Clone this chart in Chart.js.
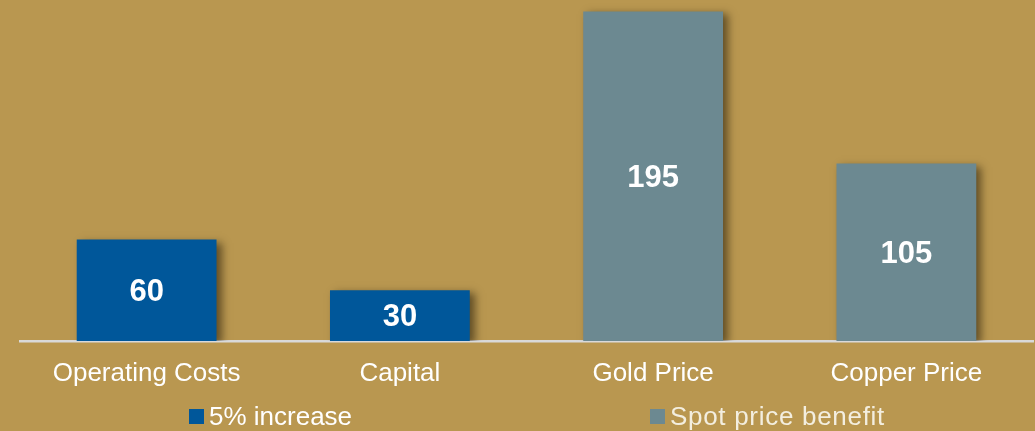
<!DOCTYPE html>
<html lang="en">
<head>
    <meta charset="UTF-8">
    <title>Sensitivity</title>
    <script src="https://cdn.jsdelivr.net/npm/chart.js"></script>
    <style>
        body {
            margin: 0;
            background-color: #B99750;
            font-family: "Liberation Sans", Arial, sans-serif;
        }

        .wrap {
            position: relative;
            width: 1035px;
            height: 431px;
            overflow: hidden;
        }

        .legend-item {
            position: absolute;
            top: 400px;
            color: #ffffff;
            font-size: 26px;
            line-height: 32px;
            white-space: nowrap;
        }

        .legend-item span {
            display: inline-block;
            width: 15px;
            height: 15px;
            margin-right: 5px;
            vertical-align: 1px;
        }
    </style>
</head>
<body>
    <div class="wrap">
        <canvas id="chart" width="1035" height="431"></canvas>
        <div class="legend-item" style="left:189px"><span style="background:#00579A"></span>5% increase</div>
        <div class="legend-item" style="left:650px;color:#F3EEDF;letter-spacing:0.7px"><span style="background:#6C8991"></span>Spot price benefit</div>
    </div>

    <script>
        // Data
        const categories = ['Operating Costs', 'Capital', 'Gold Price', 'Copper Price'];
        const increaseValues = [60, 30, null, null];
        const spotValues = [null, null, 195, 105];

        // Drop shadow on bars
        const barShadow = {
            id: 'barShadow',
            beforeDatasetDraw(chart) {
                const c = chart.ctx;
                c.save();
                c.shadowColor = 'rgba(40, 30, 10, 0.6)';
                c.shadowBlur = 8;
                c.shadowOffsetX = 5;
                c.shadowOffsetY = 3;
            },
            afterDatasetDraw(chart) {
                chart.ctx.restore();
            }
        };

        // Value labels inside the bars
        const barLabels = {
            id: 'barLabels',
            afterDatasetsDraw(chart) {
                const c = chart.ctx;
                c.save();
                c.fillStyle = '#ffffff';
                c.font = 'bold 31px "Liberation Sans", Arial, sans-serif';
                c.textAlign = 'center';
                c.textBaseline = 'middle';
                chart.data.datasets.forEach((ds, i) => {
                    chart.getDatasetMeta(i).data.forEach((bar, j) => {
                        const v = ds.data[j];
                        if (v === null) return;
                        c.fillText(v, bar.x, (bar.y + bar.base) / 2 + 2);
                    });
                });
                c.restore();
            }
        };

        const ctx = document.getElementById('chart').getContext('2d');
        new Chart(ctx, {
            type: 'bar',
            data: {
                labels: categories,
                datasets: [{
                    label: '5% increase',
                    data: increaseValues,
                    backgroundColor: '#00579A'
                }, {
                    label: 'Spot price benefit',
                    data: spotValues,
                    backgroundColor: '#6C8991'
                }]
            },
            options: {
                responsive: false,
                animation: false,
                grouped: false,
                categoryPercentage: 1,
                barPercentage: 0.552,
                layout: {
                    padding: { left: 20, right: 2, top: 3, bottom: 30 }
                },
                scales: {
                    x: {
                        z: 1,
                        grid: { display: false },
                        border: { display: true, color: '#D9D9D9', width: 2.5 },
                        ticks: {
                            color: '#ffffff',
                            padding: 9,
                            font: { size: 26, family: '"Liberation Sans", Arial, sans-serif' }
                        },
                        afterFit(scale) {
                            scale.height = 60;
                        }
                    },
                    y: {
                        display: false,
                        min: 0,
                        max: 200
                    }
                },
                plugins: {
                    legend: { display: false },
                    tooltip: { enabled: false }
                }
            },
            plugins: [barShadow, barLabels]
        });
    </script>
</body>
</html>
